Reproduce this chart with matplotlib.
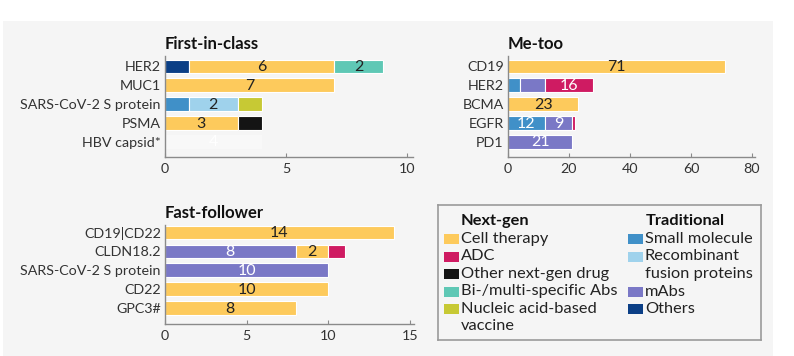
import matplotlib.pyplot as plt
from matplotlib.patches import Rectangle

plt.rcParams['font.family'] = ['Lato', 'DejaVu Sans']

# modality colours
colors = {
    'Cell therapy': '#fdca5c',
    'ADC': '#cf1b62',
    'Other next-gen drug': '#141414',
    'Bi-/multi-specific Abs': '#5fc8b5',
    'Nucleic acid-based vaccine': '#c7c934',
    'Small molecule': '#4090c8',
    'Recombinant fusion proteins': '#9fd2ec',
    'mAbs': '#7a78c6',
    'Others': '#0b3f86',
    'Unknown': '#f8f8f8',
}
dark_text = ['Cell therapy', 'Bi-/multi-specific Abs', 'Recombinant fusion proteins',
             'Nucleic acid-based vaccine']

# (type, value, show label)
fic_cats = ['HER2', 'MUC1', 'SARS-CoV-2 S protein', 'PSMA', 'HBV capsid*']
fic_segs = [
    [('Others', 1, False), ('Cell therapy', 6, True), ('Bi-/multi-specific Abs', 2, True)],
    [('Cell therapy', 7, True)],
    [('Small molecule', 1, False), ('Recombinant fusion proteins', 2, True),
     ('Nucleic acid-based vaccine', 1, False)],
    [('Cell therapy', 3, True), ('Other next-gen drug', 1, False)],
    [('Unknown', 4, True)],
]
fic_ticks = [0, 5, 10]

metoo_cats = ['CD19', 'HER2', 'BCMA', 'EGFR', 'PD1']
metoo_segs = [
    [('Cell therapy', 71, True)],
    [('Small molecule', 4, False), ('mAbs', 8, False), ('ADC', 16, True)],
    [('Cell therapy', 23, True)],
    [('Small molecule', 12, True), ('mAbs', 9, True), ('ADC', 1, False)],
    [('mAbs', 21, True)],
]
metoo_ticks = [0, 20, 40, 60, 80]

ff_cats = ['CD19|CD22', 'CLDN18.2', 'SARS-CoV-2 S protein', 'CD22', 'GPC3#']
ff_segs = [
    [('Cell therapy', 14, True)],
    [('mAbs', 8, True), ('Cell therapy', 2, True), ('ADC', 1, False)],
    [('mAbs', 10, True)],
    [('Cell therapy', 10, True)],
    [('Cell therapy', 8, True)],
]
ff_ticks = [0, 5, 10, 15]

nextgen = ['Cell therapy', 'ADC', 'Other next-gen drug', 'Bi-/multi-specific Abs',
           'Nucleic acid-based vaccine']
nextgen_text = ['Cell therapy', 'ADC', 'Other next-gen drug', 'Bi-/multi-specific Abs',
                'Nucleic acid-based\nvaccine']
traditional = ['Small molecule', 'Recombinant fusion proteins', 'mAbs', 'Others']
traditional_text = ['Small molecule', 'Recombinant\nfusion proteins', 'mAbs', 'Others']

bg = '#f5f5f5'
W, H = 794, 356
fig = plt.figure(figsize=(W / 100, H / 100), dpi=100)
fig.patch.set_facecolor('white')
fig.patches.append(Rectangle((3 / W, 0), 770 / W, 1 - 21 / H, transform=fig.transFigure,
                             facecolor=bg, edgecolor='none', zorder=-10))


def px_axes(x0, y0, x1, y1):
    return fig.add_axes([x0 / W, 1 - y1 / H, (x1 - x0) / W, (y1 - y0) / H])


def panel(ax, title, cats, segs, ticks, xmax, ylim):
    ax.set_facecolor('none')
    for i, row in enumerate(segs):
        left = 0
        for kind, val, show in row:
            ec = 'none' if kind == 'Unknown' else 'white'
            ax.barh(i, val, left=left, height=0.72, color=colors[kind],
                    edgecolor=ec, linewidth=0.8)
            if show:
                tc = '#222222' if kind in dark_text else 'white'
                ax.text(left + val / 2, i + 0.03, str(val), ha='center', va='center',
                        fontsize=11.5, color=tc)
            left += val
    ax.set_yticks(range(len(cats)))
    ax.set_yticklabels(cats, fontsize=10.3, color='#333333')
    ax.set_xticks(ticks)
    ax.set_xticklabels([str(t) for t in ticks], fontsize=10.3, color='#333333')
    ax.set_xlim(0, xmax)
    ax.set_ylim(*ylim)
    for s in ['top', 'right']:
        ax.spines[s].set_visible(False)
    for s in ['left', 'bottom']:
        ax.spines[s].set_color('#8a8a8a')
        ax.spines[s].set_linewidth(1.0)
    ax.tick_params(axis='y', length=0, pad=3)
    ax.tick_params(axis='x', length=3, direction='in', color='#8a8a8a', pad=4)
    ax.text(0, 1.04, title, transform=ax.transAxes, fontsize=12, fontweight='bold',
            color='#111111', ha='left', va='bottom')


ax1 = px_axes(165, 56, 413, 157)
panel(ax1, 'First-in-class', fic_cats, fic_segs, fic_ticks, 10.25, (4.8, -0.55))

ax2 = px_axes(508, 56, 755, 157)
panel(ax2, 'Me-too', metoo_cats, metoo_segs, metoo_ticks, 81, (4.8, -0.55))

ax3 = px_axes(165, 225, 414, 324)
panel(ax3, 'Fast-follower', ff_cats, ff_segs, ff_ticks, 15.25, (4.85, -0.4))

# legend box
lg = px_axes(438, 205, 761, 340)
lg.set_facecolor(bg)
lg.set_xticks([])
lg.set_yticks([])
for s in lg.spines.values():
    s.set_color('#9a9a9a')
    s.set_linewidth(1.2)
lg.set_xlim(438, 761)
lg.set_ylim(340, 205)

fs = 11.8
lg.text(461, 221, 'Next-gen', fontsize=fs, fontweight='bold', va='center', color='#111111')
lg.text(646, 221, 'Traditional', fontsize=fs, fontweight='bold', va='center', color='#111111')

ys = [239, 256.5, 274, 291.5, 309, 326.5]


def legend_column(names, texts, px, tx):
    row = 0
    for name, label in zip(names, texts):
        lg.add_patch(Rectangle((px, ys[row] - 5), 15, 10, facecolor=colors[name],
                               edgecolor='none'))
        for line in label.split('\n'):
            lg.text(tx, ys[row], line, fontsize=fs, va='center', color='#222222')
            row += 1


legend_column(nextgen, nextgen_text, 444, 461)
legend_column(traditional, traditional_text, 628, 645)

fig.savefig('out.png', dpi=100, facecolor=fig.get_facecolor())
